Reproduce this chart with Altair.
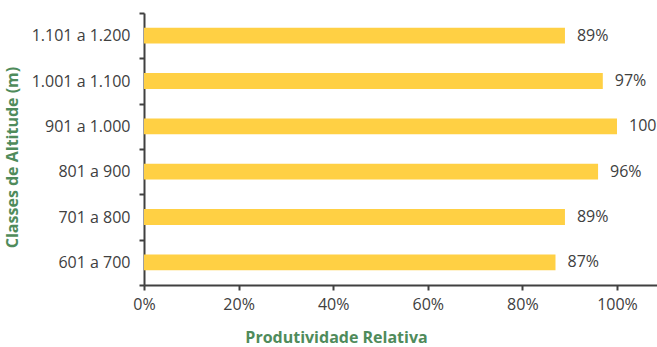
import altair as alt
import pandas as pd

# Altitude classes (top to bottom) and their relative productivity
classes = ["1.101 a 1.200", "1.001 a 1.100", "901 a 1.000", "801 a 900", "701 a 800", "601 a 700"]
productivity = [0.89, 0.97, 1.00, 0.96, 0.89, 0.87]
x_ticks = [0, 0.2, 0.4, 0.6, 0.8, 1.0]

df = pd.DataFrame({"classe": classes, "prod": productivity})
df["rotulo"] = [f"{round(v * 100)}%" for v in productivity]

TEXT = "#404040"
GREEN = "#4F8B5B"
FONT = "Open Sans"

y_enc = alt.Y(
    "classe:N",
    sort=classes,
    scale=alt.Scale(paddingInner=0, paddingOuter=0),
    axis=alt.Axis(
        title="Classes de Altitude (m)",
        titleColor=GREEN,
        titleFontWeight="bold",
        titleFontSize=16,
        titleFont=FONT,
        titleX=-124,
        titleY=144,
        titleAngle=-90,
        labelFontSize=16,
        labelFont=FONT,
        labelColor=TEXT,
        labelPadding=9,
        tickBand="extent",
        tickSize=5,
        tickWidth=2,
        tickColor=TEXT,
        domainColor=TEXT,
        domainWidth=2,
    ),
)

x_enc = alt.X(
    "prod:Q",
    scale=alt.Scale(domain=[0, 1.0846], nice=False),
    axis=alt.Axis(
        title="Produtividade Relativa",
        titleColor=GREEN,
        titleFontWeight="bold",
        titleFontSize=16,
        titleFont=FONT,
        titleX=192,
        titleY=44,
        values=x_ticks,
        format=".0%",
        labelFontSize=16,
        labelFont=FONT,
        labelColor=TEXT,
        labelPadding=6,
        labelFlush=False,
        tickSize=5,
        tickWidth=2,
        tickColor=TEXT,
        domainColor=TEXT,
        domainWidth=2,
        grid=False,
    ),
)

bars = alt.Chart(df).mark_bar(
    color="#FFD044", height=alt.RelativeBandSize(0.35)
).encode(x=x_enc, y=y_enc)

labels = alt.Chart(df).mark_text(
    align="left", baseline="middle", dx=12, fontSize=16, font=FONT, color=TEXT
).encode(x="prod:Q", y=alt.Y("classe:N", sort=classes), text="rotulo:N")

chart = (
    alt.layer(bars, labels)
    .properties(
        width=513,
        height=272,
        autosize=alt.AutoSizeParams(type="none"),
        padding={"left": 144, "top": 13, "right": 0, "bottom": 62},
        background="white",
    )
    .configure_view(stroke=None)
)

chart.save("out.html", embed_options={"renderer": "svg", "actions": False})
